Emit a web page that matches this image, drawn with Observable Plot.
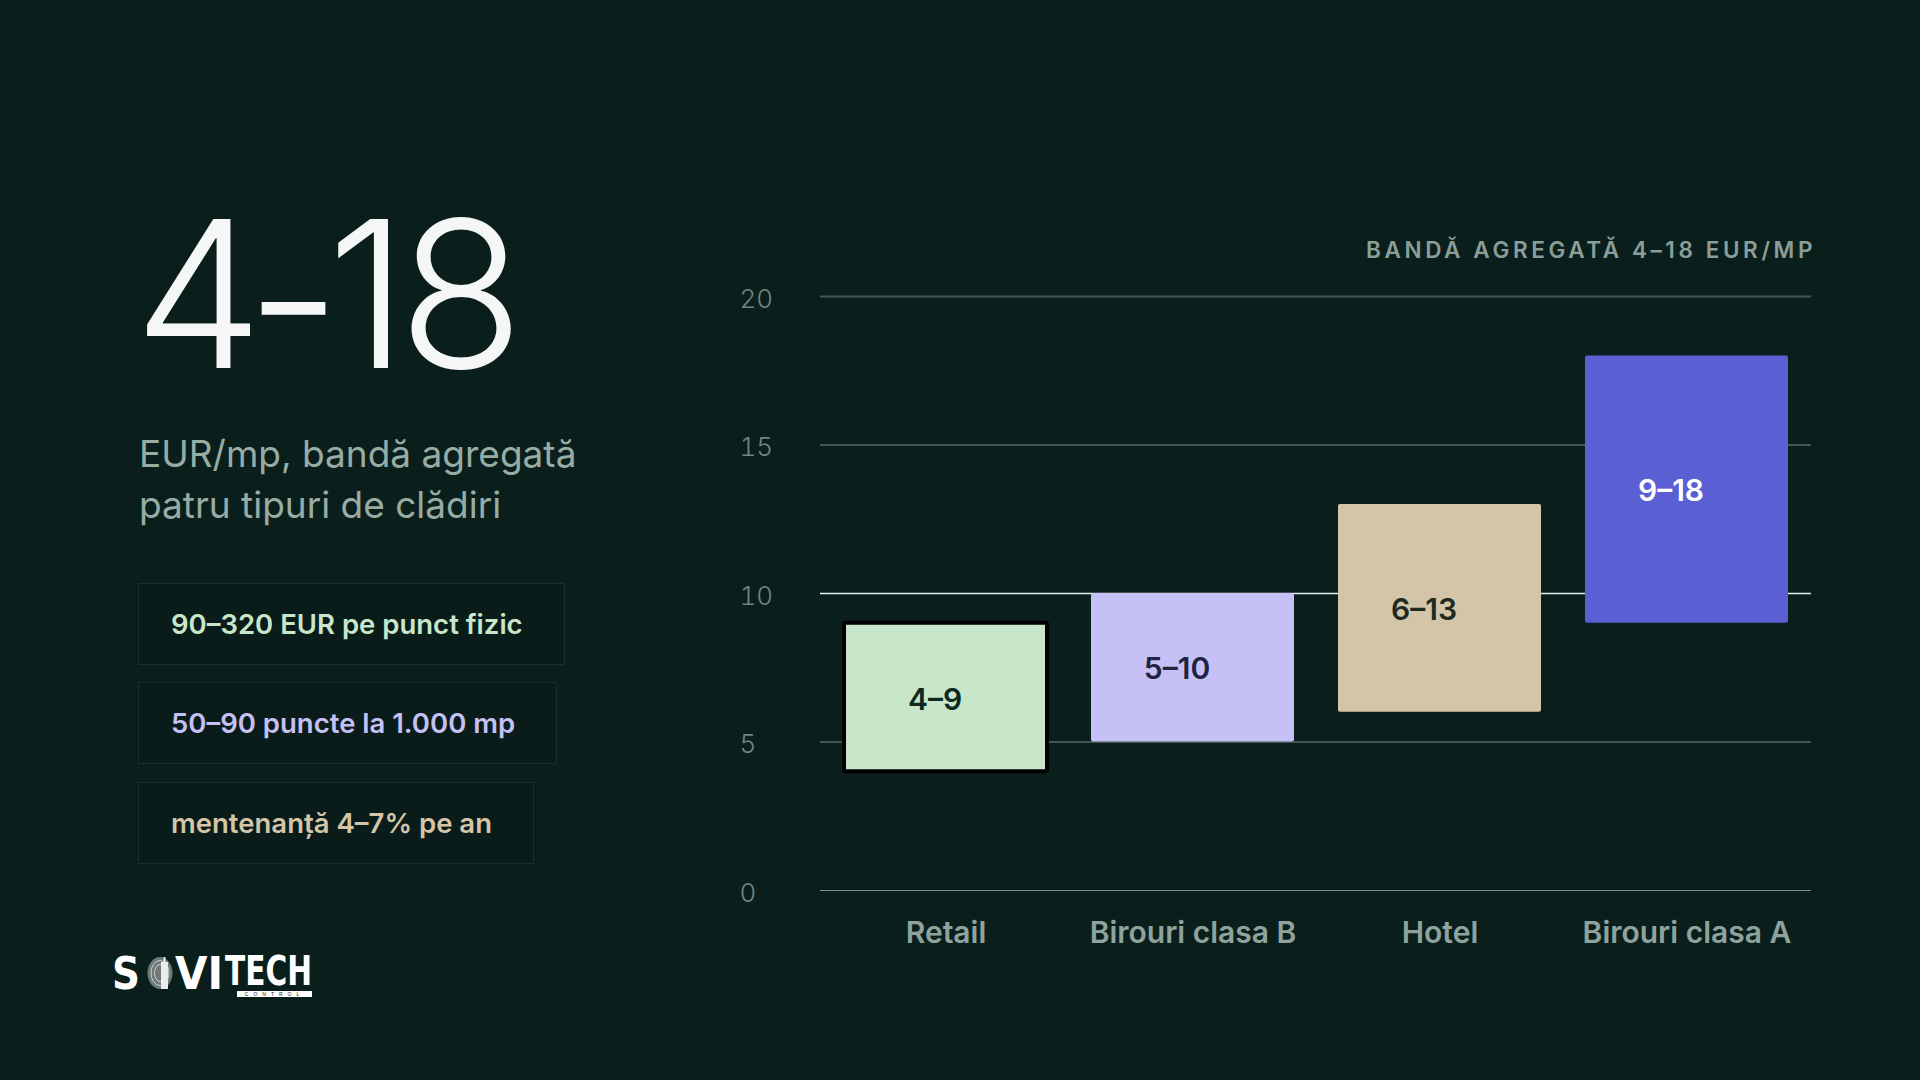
<!DOCTYPE html>
<html><head><meta charset="utf-8">
<script src="https://cdn.jsdelivr.net/npm/d3@7"></script>
<script src="https://cdn.jsdelivr.net/npm/@observablehq/plot@0.6"></script>
<style>
html,body{margin:0;padding:0;background:#0a1f1c;width:1920px;height:1080px;overflow:hidden;font-family:Inter,"Noto Sans",sans-serif;}
#big{position:absolute;left:134px;top:191px;font-size:205px;line-height:1;font-weight:300;color:#f4f7f6;letter-spacing:-0.045em;white-space:nowrap;}
#big .dash{display:inline-block;transform:translateY(4px) scaleX(0.62);margin:0 -10px;}
#sub{position:absolute;left:139px;top:428px;font-size:37px;line-height:51px;color:#98aca6;font-weight:400;white-space:nowrap;}
.box{position:absolute;left:138px;height:82px;box-sizing:border-box;border:1px solid #17302b;background:#091c19;padding:0 41px 0 32px;display:flex;align-items:center;font-size:27.5px;font-weight:600;white-space:nowrap;}
#title{position:absolute;right:104px;top:239px;font-size:22.5px;line-height:22px;font-weight:600;letter-spacing:0.16em;color:#8a9e99;white-space:nowrap;}
#chart{position:absolute;left:700px;top:260px;}
#logo{position:absolute;left:108px;top:947px;overflow:visible;}
</style>
</head>
<body>
<div id="big">4<span class="dash">–</span>18</div>
<div id="sub">EUR/mp, bandă agregată<br>patru tipuri de clădiri</div>
<div class="box" style="top:583px;color:#c8e6c9">90–320 EUR pe punct fizic</div>
<div class="box" style="top:682px;color:#c5c0f5">50–90 puncte la 1.000 mp</div>
<div class="box" style="top:782px;color:#d4c5a8">mentenanță 4–7% pe an</div>
<div id="title">BANDĂ AGREGATĂ 4–18 EUR/MP</div>
<div id="chart"></div>
<svg id="logo" width="220" height="60">
  <text x="4" y="42" textLength="28" lengthAdjust="spacingAndGlyphs" font-family="'Liberation Sans Narrow','DejaVu Sans Condensed',sans-serif" font-weight="700" font-size="45" fill="#ffffff">S</text>
  <ellipse cx="52" cy="26" rx="12.5" ry="16" fill="#6f7a78"/>
  <ellipse cx="52" cy="26" rx="9" ry="12.5" fill="none" stroke="#c9d0ce" stroke-width="1"/>
  <ellipse cx="52" cy="26" rx="5.5" ry="8.5" fill="none" stroke="#c9d0ce" stroke-width="1"/>
  <rect x="53" y="15" width="7" height="27" fill="#e8ecea"/>
  <rect x="55.5" y="10" width="2" height="6" fill="#e8ecea"/>
  <text x="67" y="42" textLength="48" lengthAdjust="spacingAndGlyphs" font-family="'Liberation Sans Narrow','DejaVu Sans Condensed',sans-serif" font-weight="700" font-size="44" fill="#ffffff">VI</text>
  <text x="117" y="38" textLength="87" lengthAdjust="spacingAndGlyphs" font-family="'Liberation Sans Narrow','DejaVu Sans Condensed',sans-serif" font-weight="700" font-size="40" fill="#ffffff">TECH</text>
  <rect x="129" y="44" width="75" height="6" fill="#ffffff"/>
  <text x="166.5" y="49" text-anchor="middle" font-family="'Liberation Sans',sans-serif" font-size="5" letter-spacing="5" fill="#0a1f1c">CONTROL</text>
</svg>
<script>
const categories = ["Retail", "Birouri clasa B", "Hotel", "Birouri clasa A"];
const lows = [4, 5, 6, 9];
const highs = [9, 10, 13, 18];
const rangeLabels = ["4–9", "5–10", "6–13", "9–18"];
const barColors = ["#c8e6c9", "#c5c0f5", "#d4c5a8", "#5b5fd4"];
const labelColors = ["#10291f", "#1f2540", "#1f2a22", "#ffffff"];
const yTicks = [0, 5, 10, 15, 20];
const highlightTick = 10;
const topTick = 20;
const outlined = "Retail";

const data = categories.map((c, i) => ({
  cat: c, lo: lows[i], hi: highs[i], label: rangeLabels[i],
  color: barColors[i], text: labelColors[i]
}));

const chart = Plot.plot({
  width: 1160,
  height: 700,
  marginLeft: 120,
  marginRight: 49,
  marginTop: 36,
  marginBottom: 70,
  style: {background: "transparent", fontFamily: "Inter, 'Noto Sans', sans-serif", overflow: "visible"},
  x: {domain: categories, paddingInner: 0.18, paddingOuter: 0.09, label: null},
  y: {domain: [0, 20], label: null},
  color: {type: "identity"},
  marks: [
    Plot.ruleY(yTicks.filter(v => v !== highlightTick && v !== topTick), {stroke: "#7a8f8a", strokeWidth: 1}),
    Plot.ruleY([topTick], {stroke: "#3f5a54", strokeWidth: 2}),
    Plot.ruleY([highlightTick], {stroke: "#e8eeec", strokeWidth: 1.5}),
    Plot.barY(data, {x: "cat", y1: "lo", y2: "hi", fill: "color", rx: 2}),
    Plot.barY(data.filter(d => d.cat === outlined), {x: "cat", y1: "lo", y2: "hi", fill: "none", stroke: "#000000", strokeWidth: 4, rx: 2}),
    Plot.text(data.filter(d => d.cat !== outlined), {x: "cat", y: d => (d.lo + d.hi) / 2, text: "label", fill: "text", fontSize: 30, fontWeight: 600, dx: -16, dy: 2}),
    Plot.text(data.filter(d => d.cat === outlined), {x: "cat", y: d => (d.lo + d.hi) / 2, text: "label", fill: "text", fontSize: 30, fontWeight: 600, dx: -11, dy: 3}),
    Plot.axisY({ticks: yTicks, tickSize: 0, tickPadding: 81, textAnchor: "start", fontSize: 26, fontWeight: 300, fill: "#6f8782", dy: 3, label: null}),
    Plot.axisX({tickSize: 0, tickPadding: 31, fontSize: 30, fontWeight: 600, fill: "#8fa39e", label: null})
  ]
});
document.getElementById("chart").appendChild(chart);
</script>
</body></html>
